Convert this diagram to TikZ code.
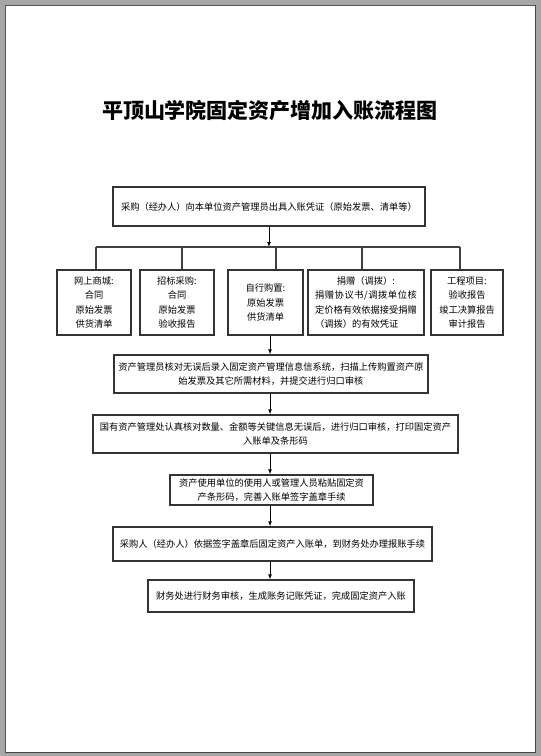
\documentclass[tikz,border=0pt]{standalone}
\usepackage{fontspec}
\setmainfont{Noto Sans CJK SC}
\usetikzlibrary{arrows.meta}
\definecolor{pagebg}{HTML}{A6A6A6}
\definecolor{pageedge}{HTML}{555555}
\definecolor{boxline}{HTML}{333333}
\makeatletter
\def\spreadloop#1#2{#1\ifx#2\relax\else\hfil\expandafter\spreadloop\expandafter#2\fi}
\newcommand\spreadchars[2]{\makebox[#1][s]{\spreadloop#2\relax}}
\makeatother
\tikzset{
  flowbox/.style={draw=boxline, line width=1.3pt, inner sep=0pt, align=center,
    font=\fontsize{9.25pt}{14.3pt}\selectfont, text=black},
  conn/.style={draw=black, line width=0.9pt},
  arr/.style={conn, -{Latex[length=5pt,width=4pt]}},
  branch/.style={draw=black!75, line width=1.2pt},
}
\begin{document}
\begin{tikzpicture}[x=1pt,y=-1pt]
\useasboundingbox (0,0) rectangle (541,756);
% page
\fill[pagebg] (0,0) rectangle (541,756);
\fill[white] (5,5) rectangle (535,752);
\draw[pageedge, line width=1pt] (5.5,752) -- (5.5,5.5) -- (535,5.5);
\draw[pageedge!80!black, line width=1.2pt] (535.5,5) -- (535.5,752.5) -- (5,752.5);

% title
\node (title) at (270,111) {\fontsize{21pt}{25pt}\selectfont\bfseries 平顶山学院固定资产增加入账流程图};

% boxes
\node[flowbox, minimum width=312pt, minimum height=39pt] (b1) at (269,206.5)
  {采购（经办人）向本单位资产管理员出具入账凭证（原始发票、清单等）};

\node[flowbox, minimum width=74pt, minimum height=65pt] (bA) at (94,302.5)
  {网上商城:\\合同\\原始发票\\供货清单};
\node[flowbox, minimum width=74pt, minimum height=65pt] (bB) at (177,302.5)
  {招标采购:\\合同\\原始发票\\验收报告};
\node[flowbox, minimum width=75pt, minimum height=65pt] (bC) at (265.5,302.5)
  {自行购置:\\原始发票\\供货清单};
\node[flowbox, minimum width=116pt, minimum height=65pt, align=left] (bD) at (366,302.5)
  {\makebox[11em]{捐赠（调拨）:}\\\spreadchars{11em}{捐赠协议书/调拨单位核}\\定价格有效依据接受捐赠\\（调拨）的有效凭证};
\node[flowbox, minimum width=72pt, minimum height=65pt] (bE) at (467,302.5)
  {工程项目:\\验收报告\\竣工决算报告\\审计报告};

\node[flowbox, minimum width=314pt, minimum height=38pt] (b3) at (271,374)
  {资产管理员核对无误后录入固定资产管理信息信系统，扫描上传购置资产原\\始发票及其它所需材料，并提交进行归口审核};
\node[flowbox, minimum width=365pt, minimum height=38pt] (b4) at (275.5,434)
  {国有资产管理处认真核对数量、金额等关键信息无误后，进行归口审核，打印固定资产\\入账单及条形码};
\node[flowbox, minimum width=203pt, minimum height=30pt] (b5) at (271.5,490)
  {资产使用单位的使用人或管理人员粘贴固定资\\产条形码，完善入账单签字盖章手续};
\node[flowbox, minimum width=319pt, minimum height=34pt] (b6) at (272.5,544)
  {采购人（经办人）依据签字盖章后固定资产入账单，到财务处办理报账手续};
\node[flowbox, minimum width=266pt, minimum height=32pt] (b7) at (281,596)
  {财务处进行财务审核，生成账务记账凭证，完成固定资产入账};

% connectors
\coordinate (axis) at (270,0);
\coordinate (br) at (269,247);
\coordinate (brL) at (96,247);
\coordinate (brR) at (460,247);
\coordinate (dA) at (96,247);
\coordinate (dB) at (182,247);
\coordinate (dC) at (276,247);
\coordinate (dD) at (362,247);
\coordinate (dE) at (460,247);

\draw[arr] (b1.south) -- (b1.south |- br);
\draw[branch] (brL) -- (brR);
\draw[branch] (dA) -- (dA |- bA.north);
\draw[branch] (dB) -- (dB |- bB.north);
\draw[branch] (dC) -- (dC |- bC.north);
\draw[branch] (dD) -- (dD |- bD.north);
\draw[branch] (dE) -- (dE |- bE.north);

\draw[arr] (axis |- bC.south) -- (axis |- b3.north);
\draw[arr] (axis |- b3.south) -- (axis |- b4.north);
\draw[arr] (axis |- b4.south) -- (axis |- b5.north);
\draw[arr] (axis |- b5.south) -- (axis |- b6.north);
\draw[arr] (axis |- b6.south) -- (axis |- b7.north);
\end{tikzpicture}
\end{document}
